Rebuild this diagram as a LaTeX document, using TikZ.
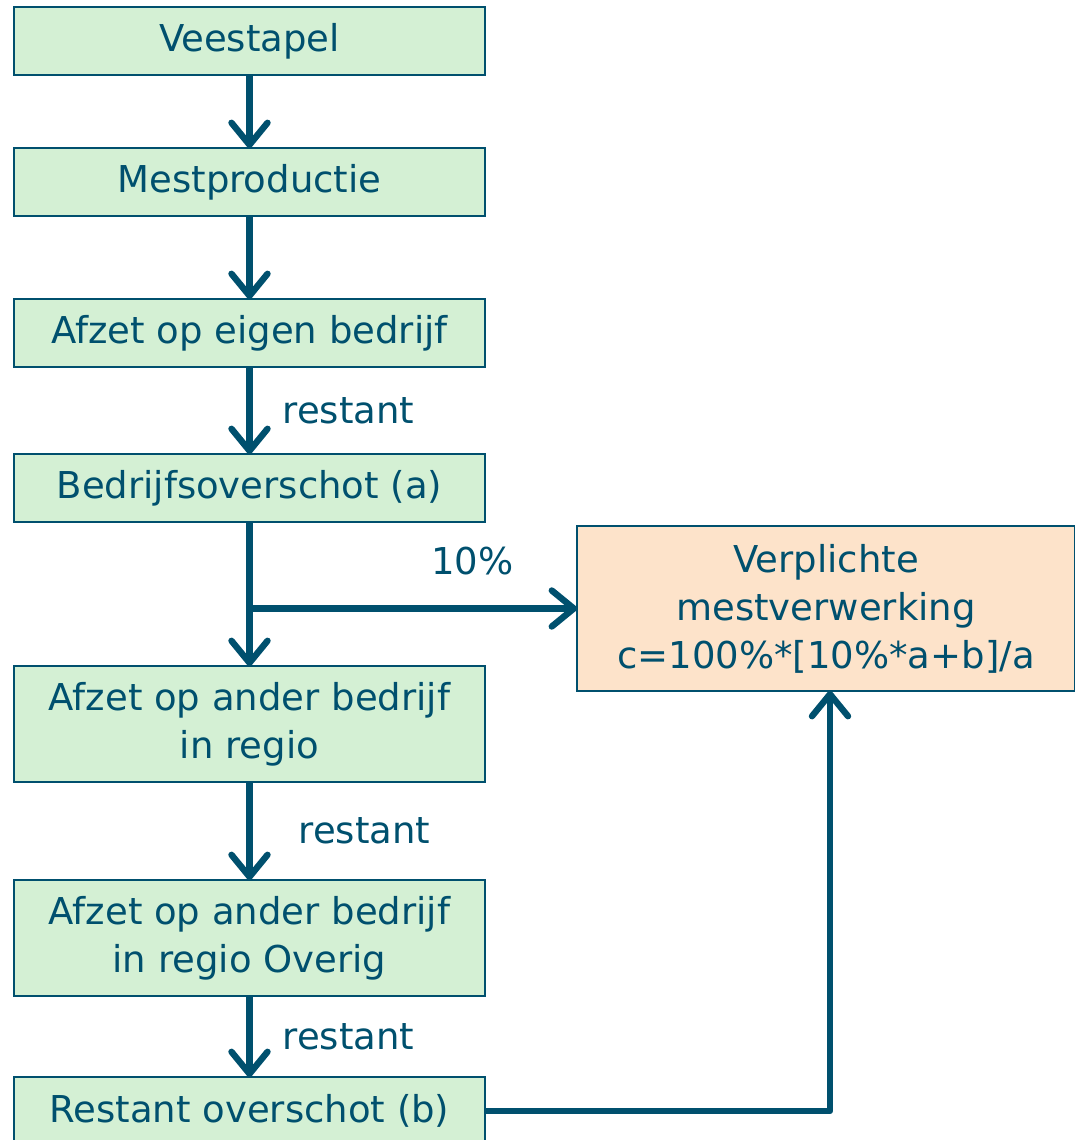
\documentclass[tikz,border=0pt]{standalone}
\usepackage{fontspec}
\setmainfont{DejaVu Sans}
\usetikzlibrary{arrows.meta,positioning}

\definecolor{flowblue}{HTML}{00506E}
\definecolor{boxgreen}{HTML}{D4F0D4}
\definecolor{boxorange}{HTML}{FDE3CA}

\begin{document}
\begin{tikzpicture}[->,>={Straight Barb[length=11pt,width=18pt,round]},
                    line width=3.2pt,draw=flowblue,text=flowblue,
                    every node/.style={font=\fontsize{18.5pt}{24pt}\selectfont},
                    box node/.style={draw=flowblue,line width=1pt,fill=boxgreen,
                      outer sep=0pt,align=center,
                      minimum width=235.5pt,minimum height=34pt},
                    tall node/.style={box node,minimum height=58pt},
                    label node/.style={inner sep=0pt}]
  \useasboundingbox (0,0) rectangle (537.5pt,-570pt);

  \node[box node,anchor=north west] (vee) at (7pt,-3.5pt) {Veestapel};
  \node[box node]  (mest)  [below=36.5pt of vee]   {Mestproductie};
  \node[box node]  (eigen) [below=41.5pt of mest]  {Afzet op eigen bedrijf};
  \node[box node]  (bedr)  [below=43.5pt of eigen] {Bedrijfsoverschot (a)};
  \node[tall node] (regio) [below=72pt of bedr]    {Afzet op ander bedrijf\\in regio};
  \node[tall node] (overig)[below=49pt of regio]   {Afzet op ander bedrijf\\in regio Overig};
  \node[box node]  (rest)  [below=40.5pt of overig]{Restant overschot (b)};
  \node[box node,fill=boxorange,minimum width=249pt,minimum height=82.5pt,
        anchor=north west] (verpl) at ([xshift=46pt,yshift=-2pt]bedr.south east)
        {Verplichte\\mestverwerking\\c=100\%*[10\%*a+b]/a};

  \draw (vee) -- (mest);
  \draw (mest) -- (eigen);
  \draw (eigen) -- node[label node,right=15pt] {restant} (bedr);
  \draw (bedr) -- (regio);
  \draw (bedr.south) |- node[label node,pos=0.84,above=15pt] {10\%} (verpl);
  \draw (regio) -- node[label node,right=23pt] {restant} (overig);
  \draw (overig) -- node[label node,right=15pt] {restant} (rest);
  \draw[line join=round] (rest) -| ([xshift=2pt]verpl.south);

\end{tikzpicture}
\end{document}
